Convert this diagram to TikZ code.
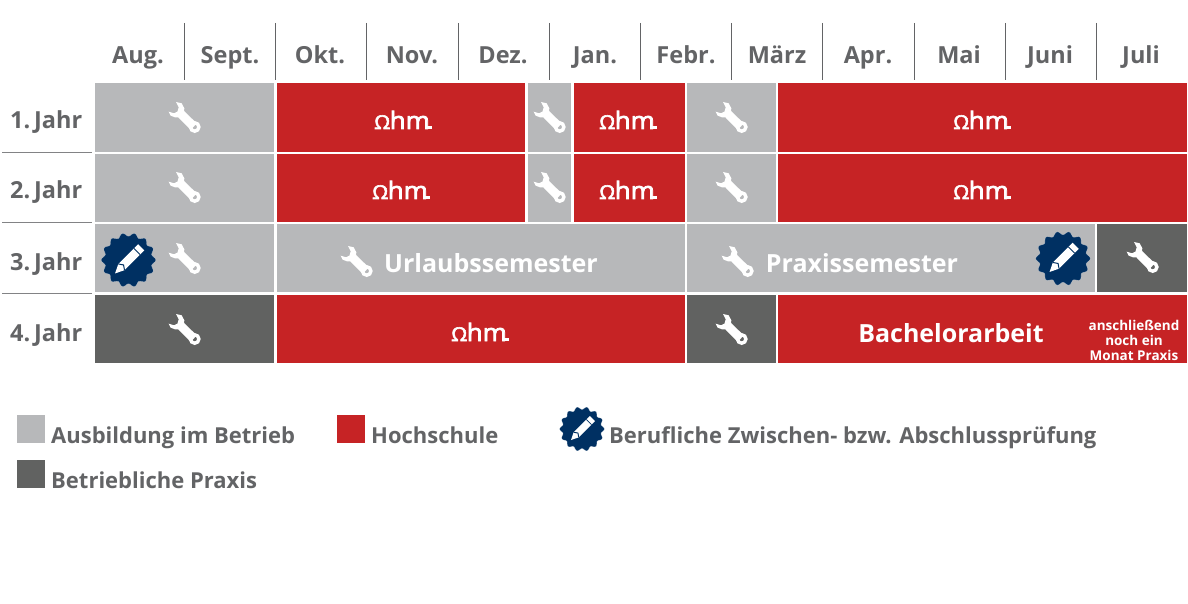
\documentclass[tikz,border=0pt]{standalone}
\usepackage{fontspec}
\setmainfont{Open Sans}
\newfontfamily\ohmfont[FakeStretch=1.08,FakeBold=3]{Open Sans}
\definecolor{hellgrau}{HTML}{B7B8BA}
\definecolor{dunkelgrau}{HTML}{616261}
\definecolor{ohmrot}{HTML}{C62325}
\definecolor{schrift}{HTML}{636466}
\definecolor{siegel}{HTML}{003062}
\tikzset{
  monat/.style={text=schrift,font=\fontsize{23.5}{24}\selectfont\bfseries,anchor=base,inner sep=0pt},
  jahr/.style={text=schrift,font=\fontsize{23.5}{24}\selectfont\bfseries,anchor=base west,inner sep=0pt},
  legende/.style={text=schrift,font=\fontsize{22}{22}\selectfont\bfseries,anchor=base west,inner sep=0pt},
  zelle/.style={text=white,font=\fontsize{25}{25}\selectfont\bfseries,anchor=base,inner sep=0pt},
  klein/.style={text=white,font=\fontsize{13.5}{14}\selectfont\bfseries,anchor=base,inner sep=0pt},
  logo/.style={text=white,font=\ohmfont\fontsize{24}{24}\selectfont,anchor=base,inner sep=0pt},
  wrench/.pic={
    \fill[white] (-8,-15)--(-2.3,-13.7)--(.3,-8.7)--(0,-6)--(12.7,6.3)--(6.7,13)--(-5.7,.3)--(-9,.3)
      --(-13.3,-1.3)--(-15.3,-5.3)--(-10,-3.7)--(-6.5,-5.5)--(-5.3,-9.7)--cycle;
    \draw[white,line width=3.4pt] (10.7,10) circle (4.2);
  },
  seal/.pic={
    \fill[siegel,draw=white,draw opacity=.5,line width=.3pt] plot[domain=0:360,samples=113] (\x:{25.5+1.8*cos(14*\x)});
    \begin{scope}[rotate=45]
      \fill[white] (-19,0)--(-10,-4.4)--(18,-4.4)--(18,4.4)--(-10,4.4)--cycle;
      \draw[siegel,line width=1pt] (-10,-4.4)--(-7,0)--(-10,4.4);
      \draw[siegel,line width=.8pt] (12,-4.4)--(12,4.4);
    \end{scope}
  },
}
\begin{document}
\begin{tikzpicture}[x=1pt,y=-1pt]
\useasboundingbox (0,0) rectangle (1188,604);
% header
\foreach \x in {184,275,366,458,549,640,731,822,914,1005,1096}
  \draw[schrift,line width=1pt] (\x,23)--(\x,80);
\foreach \x/\m [count=\i] in {138/Aug.,230/Sept.,320/Okt.,412/Nov.,503/Dez.,595/Jan.,686/Febr.,777/März,868/Apr.,959/Mai,1050/Juni,1141/Juli}
  \node[monat] (m\i) at (\x,64) {\m};
\foreach \y/\j [count=\i] in {129/1.,199/2.,270/3.,341/4.}
  \node[jahr] (j\i) at (10,\y) {\j\,Jahr};
\foreach \y in {152.5,222.5,293.5}
  \draw[schrift!80,line width=1pt] (2,\y)--(92,\y);
% rows
\foreach \a/\b/\c/\d/\farbe in {
  95/274/83/152/hellgrau,277/525/83/152/ohmrot,528/571/83/152/hellgrau,574/685/83/152/ohmrot,687/776/83/152/hellgrau,778/1187/83/152/ohmrot,
  95/274/154/222/hellgrau,277/525/154/222/ohmrot,528/571/154/222/hellgrau,574/685/154/222/ohmrot,687/776/154/222/hellgrau,778/1187/154/222/ohmrot,
  95/274/224/292/hellgrau,277/685/224/292/hellgrau,687/1095/224/292/hellgrau,1097/1187/224/292/dunkelgrau,
  95/274/295/363/dunkelgrau,277/685/295/363/ohmrot,687/776/295/363/dunkelgrau,778/1187/295/363/ohmrot}
  \fill[\farbe] (\a,\c) rectangle (\b,\d);
\foreach \x/\y in {184/117,549/117,731/117,184/187,549/187,731/187,184/258,356/261,737/261,1142/257,184/329,731/329}
  \pic at (\x,\y) {wrench};
\foreach \x/\y [count=\i] in {402/129,627/129,981/129,400/199,627/199,981/199,479/341} {
  \node[logo] (o\i) at (\x,\y) {{\fontsize{19}{19}\selectfont Ω}\kern-.5pt hm};
  \fill[white] (o\i.base east) ++(-3,-2.6) rectangle ++(5,2.6);
}
\pic at (128.5,260) {seal};
\pic at (1063,258.5) {seal};
\node[zelle] (urlaub) at (491,272) {Urlaubssemester};
\node[zelle] (praxis) at (862,272) {Praxissemester};
\node[zelle] (arbeit) at (951,342) {Bachelorarbeit};
\node[klein] (k1) at (1134,330) {anschließend};
\node[klein] (k2) at (1134,345) {noch ein};
\node[klein] (k3) at (1134,360) {Monat Praxis};
% legend
\fill[hellgrau] (17,415) rectangle (45,443);
\fill[ohmrot] (337,415) rectangle (365,443);
\fill[dunkelgrau] (17,460) rectangle (45,488);
\node[legende] (l1) at (51,443) {Ausbildung im Betrieb};
\node[legende] (l2) at (371,443) {Hochschule};
\pic[scale=.82] at (582,429) {seal};
\node[legende] (l3) at (609,443) {Berufliche Zwischen- bzw. Abschlussprüfung};
\node[legende] (l4) at (51,488) {Betriebliche Praxis};
\end{tikzpicture}
\end{document}
